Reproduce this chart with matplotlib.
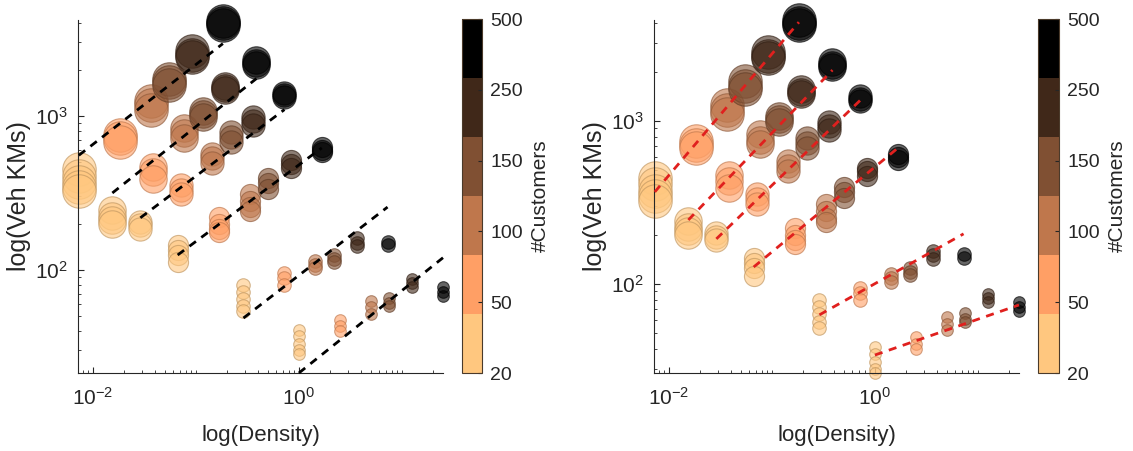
import numpy as np
import matplotlib.pyplot as plt
from matplotlib import ticker
from matplotlib.colors import ListedColormap, Normalize, to_rgb
from matplotlib.cm import ScalarMappable

plt.rcParams['font.family'] = ['Liberation Sans', 'DejaVu Sans']
plt.rcParams['mathtext.fontset'] = 'custom'
plt.rcParams['mathtext.rm'] = 'Liberation Sans'
plt.rcParams['mathtext.it'] = 'Liberation Sans:italic'

# =============================================================================
# data

customers = [20, 50, 100, 150, 250, 500]
cust_labels = ['20', '50', '100', '150', '250', '500']
areas = [2730, 1290, 690, 300, 69, 20]          # one region per series

# vehicle km, replicates per customer level
vkm_a = [[450, 410, 370, 345, 325], [755, 715, 680], [1250, 1170, 1100],
         [1750, 1650, 1580], [2650, 2500, 2420], [4150, 4000, 3900]]
vkm_b = [[245, 225, 210, 200], [465, 430, 390], [830, 770, 720],
         [1080, 1030, 990], [1570, 1510, 1470], [2300, 2200, 2150]]
vkm_c = [[205, 195, 185], [355, 330, 310], [565, 530, 495],
         [790, 730, 680], [980, 930, 880], [1420, 1370, 1330]]
vkm_d = [[145, 135, 125, 112], [220, 200, 185, 175], [310, 280, 255, 240],
         [395, 365, 335], [515, 490, 460], [630, 600, 580]]
vkm_e = [[80, 72, 65, 58, 54], [95, 88, 80], [115, 108, 103],
         [125, 118, 113], [160, 150, 143], [152, 145]]
vkm_f = [[41, 37, 33, 30, 28.5], [47, 43, 40], [63, 57, 52],
         [66, 61, 58], [87, 82, 78], [78, 72, 68]]
vkm_all = [vkm_a, vkm_b, vkm_c, vkm_d, vkm_e, vkm_f]

# fitted lines: value at lowest / highest density of each series
sqrt_fit_lo = [555, 316, 218, 125, 48.7, 21.4]
sqrt_fit_hi = [2950, 1750, 1100, 620, 256, 120]
free_fit_lo = [367, 247, 189, 127, 64.6, 36.6]
free_fit_hi = [4045, 2055, 1345, 682, 203, 74.3]

# =============================================================================
# style

W, H = 1133, 451
colors = ['#FFC77F', '#FF9F65', '#BF774C', '#805033', '#402819', '#000000']
marker_size = [580, 390, 280, 210, 95, 70]
text_color = '#262626'

cmap = ListedColormap(colors)


def rect(x0, y0, x1, y1):
    return [x0 / W, 1 - y1 / H, (x1 - x0) / W, (y1 - y0) / H]


def style_axes(ax, ylim):
    ax.set_xscale('log')
    ax.set_yscale('log')
    ax.set_xlim(0.0072, 25)
    ax.set_ylim(*ylim)
    ax.spines['right'].set_visible(False)
    ax.spines['top'].set_visible(False)
    for s in ['left', 'bottom']:
        ax.spines[s].set_color(text_color)
        ax.spines[s].set_linewidth(0.8)
    ax.xaxis.set_major_locator(ticker.FixedLocator([1e-2, 1e0]))
    ax.xaxis.set_minor_locator(ticker.LogLocator(base=10, subs=np.arange(1, 10), numticks=20))
    ax.yaxis.set_major_locator(ticker.FixedLocator([1e2, 1e3]))
    ax.yaxis.set_minor_locator(ticker.LogLocator(base=10, subs=np.arange(2, 10), numticks=20))
    ax.xaxis.set_minor_formatter(ticker.NullFormatter())
    ax.yaxis.set_minor_formatter(ticker.NullFormatter())
    ax.tick_params(which='both', direction='in', colors=text_color, labelsize=15)
    ax.tick_params(axis='x', pad=10)
    ax.tick_params(axis='y', pad=7)
    ax.tick_params(which='major', length=4, width=0.8)
    ax.tick_params(which='minor', length=2.2, width=0.6)
    ax.set_xlabel('log(Density)', fontsize=16, color=text_color, labelpad=12)
    ax.set_ylabel('log(Veh KMs)', fontsize=18, color=text_color, labelpad=3)


def draw_bubbles(ax):
    for k, vkm in enumerate(vkm_all):
        for j, reps in enumerate(vkm):
            dens = np.full(len(reps), customers[j] / areas[k])
            r, g, b = to_rgb(colors[j])
            ax.scatter(dens, reps, s=marker_size[k],
                       facecolors=[(r, g, b, 0.6)],
                       edgecolors=[(r * 0.75, g * 0.75, b * 0.75, 0.65)],
                       linewidths=0.8, zorder=2, clip_on=False)


def draw_fits(ax, lo, hi, color):
    for k in range(len(areas)):
        x = [customers[0] / areas[k], customers[-1] / areas[k]]
        ax.plot(x, [lo[k], hi[k]], color=color, lw=2.0, dashes=(2.9, 2.4),
                zorder=3, clip_on=False)


def draw_colorbar(fig, pos):
    cax = fig.add_axes(pos)
    sm = ScalarMappable(norm=Normalize(0, 6), cmap=cmap)
    cb = fig.colorbar(sm, cax=cax, ticks=np.linspace(0, 6, 6))
    cb.set_ticklabels(cust_labels)
    cb.outline.set_linewidth(0.8)
    cb.outline.set_edgecolor('#4a3a2a')
    cax.tick_params(direction='in', length=3, width=0.8, colors=text_color, labelsize=14, pad=6)
    cb.set_label('#Customers', fontsize=15, color=text_color, labelpad=6)
    return cb


# =============================================================================

fig = plt.figure(figsize=(W / 100, H / 100), dpi=100)

ax1 = fig.add_axes(rect(78, 20, 443, 373))
draw_bubbles(ax1)
draw_fits(ax1, sqrt_fit_lo, sqrt_fit_hi, 'black')
style_axes(ax1, (21.4, 4200))
draw_colorbar(fig, rect(462, 19, 482, 373))

ax2 = fig.add_axes(rect(654, 20, 1019, 373))
draw_bubbles(ax2)
draw_fits(ax2, free_fit_lo, free_fit_hi, '#E0201E')
style_axes(ax2, (28.4, 4170))
draw_colorbar(fig, rect(1038, 19, 1059, 373))

fig.savefig('out.png', dpi=100)
